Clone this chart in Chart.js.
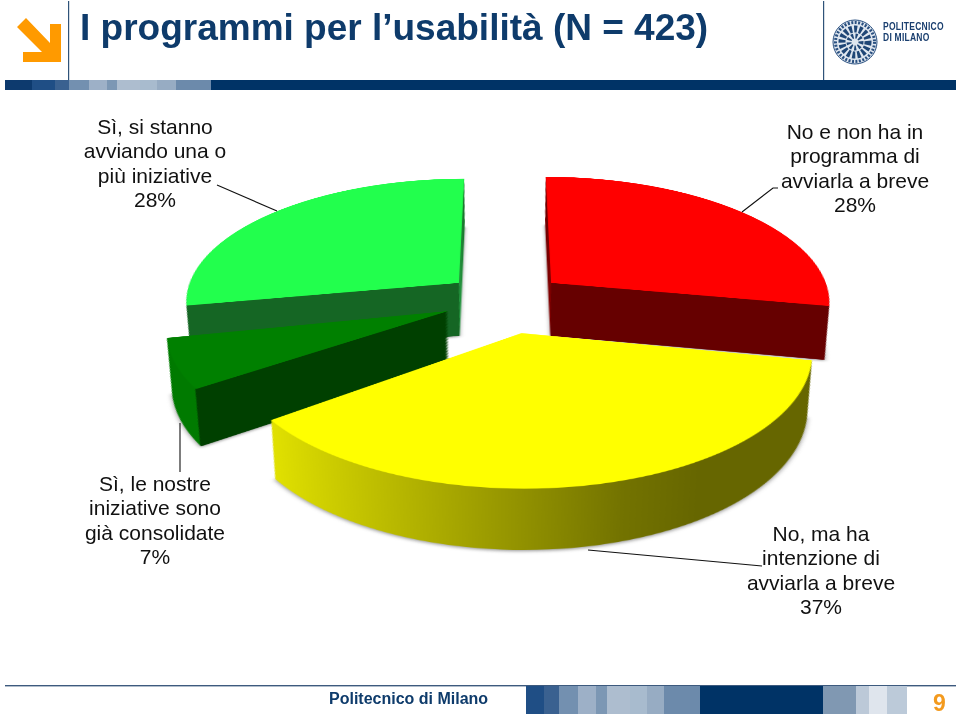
<!DOCTYPE html>
<html lang="it">
<head>
<meta charset="utf-8">
<title>I programmi per l'usabilità</title>
<script src="https://cdn.jsdelivr.net/npm/chart.js@4"></script>
<style>
  html, body { margin: 0; padding: 0; background: #fff; }
  #page { position: relative; width: 960px; height: 716px; overflow: hidden; font-family: "Liberation Sans", Arial, sans-serif; }
  #pie3d { position: absolute; left: 79px; top: -126px; transform-origin: 426px 426px; transform: perspective(1800px) rotateX(63.4deg); }
  #chrome { position: absolute; left: 0; top: 0; }
  .title { position: absolute; left: 80px; top: 6px; font-size: 37px; font-weight: bold; color: #0e3b6b; white-space: nowrap; line-height: 44px; }
  .lbl { position: absolute; width: 240px; text-align: center; font-size: 21px; line-height: 24.4px; color: #111; white-space: nowrap; }
  .foot { position: absolute; left: 329px; top: 689px; font-size: 16px; font-weight: bold; color: #0e3b6b; line-height: 20px; }
  .num { position: absolute; left: 933px; top: 691px; font-size: 23px; font-weight: bold; color: #f39a1e; line-height: 24px; }
  .logo { position: absolute; left: 883px; top: 21px; font-size: 10.5px; font-weight: bold; color: #1a3f6f; letter-spacing: 0.3px; line-height: 10.5px; white-space: nowrap; transform: scaleX(0.81); transform-origin: left top; }
</style>
</head>
<body>
<div id="page">
  <canvas id="pie3d" width="852" height="982"></canvas>
  <svg id="chrome" width="960" height="716"></svg>
  <div class="title">I programmi per l’usabilità (N = 423)</div>
  <div class="logo">POLITECNICO<br>DI MILANO</div>
  <div class="foot">Politecnico di Milano</div>
  <div class="num">9</div>
</div>
<script>
// clockwise from 12 o'clock
const sliceNames = [
  ['No e non ha in', 'programma di', 'avviarla a breve'],
  ['No, ma ha', 'intenzione di', 'avviarla a breve'],
  ['Sì, le nostre', 'iniziative sono', 'già consolidate'],
  ['Sì, si stanno', 'avviando una o', 'più iniziative']
];
const sliceValues = [28, 37, 7, 28];
const topColors = ['#ff0000', '#ffff00', '#008000', '#22ff4d'];
const sliceOffsets = [244, 292, 244, 244];    // chart.js moves a slice by offset / 4
const sliceRadius = [1, 0.99, 0.98, 0.98];
// side wall colours, as [fraction of the pie width, colour]
const wallStops = [
  [[0, '#8a0000'], [0.5, '#8a0000'], [0.5, '#660000'], [1, '#660000']],
  [[0, '#e4e400'], [0.109, '#e0e000'], [0.396, '#a6a600'], [0.648, '#737300'], [0.77, '#666600'], [1, '#666600']],
  [[0, '#007a00'], [0.096, '#007a00'], [0.096, '#004000'], [1, '#004000']],
  [[0, '#156624'], [0.5, '#156624'], [0.5, '#2aa548'], [1, '#2aa548']]
];
const labelSpots = [[735, 120], [701, 522], [35, 472], [35, 115]];
const leaderLines = [
  '778,188 773,188 742,212',
  '762,566 588,550',
  '180,472 180,423',
  '217,185 277,211'
];
const headerBars = [[5, '#0d3a6e'], [32, '#1f4e85'], [55, '#3a6190'], [69, '#7390b0'], [89, '#9db0c7'], [107, '#7c97b4'],
  [117, '#adbdcf'], [140, '#a8bbce'], [157, '#97acc3'], [176, '#6c8aab'], [211, '#003366'], [956, '']];
const footerBars = [[526, '#1f4e85'], [544, '#3a6190'], [559, '#7390b0'], [578, '#9db0c7'], [596, '#7c97b4'], [607, '#adbdcf'],
  [630, '#a8bbce'], [647, '#97acc3'], [664, '#6c8aab'], [700, '#003366'], [823, '#8098b2'], [856, '#bcc9d8'], [869, '#dfe5ed'], [887, '#bccad9'], [907, '']];

const DEPTH = 113;     // wall height, canvas px before the tilt
const SHRINK = 0.07;   // how much the bottom of a wall narrows, cancels the css perspective
const DRAW_ORDER = [0, 3, 2, 1];

const extrude = {
  id: 'extrude',
  beforeDatasetsDraw(chart) {
    const ctx = chart.ctx;
    const controller = chart.getDatasetMeta(0).controller;
    const arcs = chart.getDatasetMeta(0).data;
    const cx = chart.chartArea.left + chart.chartArea.width / 2;
    const cy = chart.chartArea.top + chart.chartArea.height / 2;
    const R = controller.outerRadius;
    DRAW_ORDER.forEach(i => {
      const arc = arcs[i];
      const top = arc.options;
      // arc.draw grows narrow slices by offset/4, take that back so all keep one radius
      const fix = 1 - Math.sin(Math.min(Math.PI, arc.circumference));
      arc.outerRadius = R * sliceRadius[i] - (sliceOffsets[i] / 4) * fix;

      // arc.draw translates before it fills, so the gradient moves along with the slice
      const grad = ctx.createLinearGradient(cx - R, 0, cx + R, 0);
      wallStops[i].forEach(s => grad.addColorStop(s[0], s[1]));
      arc.options = Object.assign({}, top, { backgroundColor: grad });
      for (let d = DEPTH; d > 0; d -= 1.5) {
        const f = 1 - SHRINK * d / DEPTH;
        ctx.save();
        ctx.translate(cx, cy + d);
        ctx.scale(f, f);
        ctx.translate(-cx, -cy);
        if (d === DEPTH) {
          ctx.shadowColor = 'rgba(60,60,60,0.55)';
          ctx.shadowBlur = 10;
          ctx.shadowOffsetY = 3;
        }
        arc.draw(ctx);
        ctx.restore();
      }
      arc.options = top;
      arc.draw(ctx);
    });
    return false;
  }
};

new Chart(document.getElementById('pie3d'), {
  type: 'pie',
  data: {
    labels: sliceNames.map(n => n.join(' ')),
    datasets: [{
      data: sliceValues,
      backgroundColor: topColors,
      borderWidth: 0,
      offset: sliceOffsets
    }]
  },
  options: {
    responsive: false,
    animation: false,
    devicePixelRatio: 2,
    layout: { padding: { bottom: 130 } },
    plugins: { legend: { display: false }, tooltip: { enabled: false } }
  },
  plugins: [extrude]
});

// labels, taken from the same arrays as the slices
const page = document.getElementById('page');
sliceNames.forEach((lines, i) => {
  const el = document.createElement('div');
  el.className = 'lbl';
  el.style.left = labelSpots[i][0] + 'px';
  el.style.top = labelSpots[i][1] + 'px';
  el.innerHTML = lines.concat(sliceValues[i] + '%').join('<br>');
  page.appendChild(el);
});

// header, footer and leaders
const NS = 'http://www.w3.org/2000/svg';
const svg = document.getElementById('chrome');
function add(tag, attrs) {
  const n = document.createElementNS(NS, tag);
  Object.keys(attrs).forEach(k => n.setAttribute(k, attrs[k]));
  svg.appendChild(n);
  return n;
}
function bars(list, y, h) {
  list.slice(0, -1).forEach((b, i) => {
    add('rect', { x: b[0], y: y, width: list[i + 1][0] - b[0], height: h, fill: b[1] });
  });
}
bars(headerBars, 80, 10);
add('rect', { x: 68, y: 1, width: 1.2, height: 79, fill: '#2f5379' });
add('rect', { x: 823, y: 1, width: 1.2, height: 79, fill: '#2f5379' });
add('polygon', { points: '17,27 26,18 50,43 50,24 61,24 61,62 23,62 23,52 42,52', fill: '#ff9a00' });
add('rect', { x: 5, y: 685, width: 951, height: 1.4, fill: '#3d5a7e' });
bars(footerBars, 686, 28);
leaderLines.forEach(p => add('polyline', { points: p, fill: 'none', stroke: '#111', 'stroke-width': 1.1 }));

// the seal in the logo
add('circle', { cx: 855, cy: 42, r: 22, fill: '#dfe6ef', stroke: '#2a5080', 'stroke-width': 1 });
add('circle', { cx: 855, cy: 42, r: 19.5, fill: 'none', stroke: '#2a5080', 'stroke-width': 3, 'stroke-dasharray': '2 1.5' });
add('circle', { cx: 855, cy: 42, r: 13, fill: 'none', stroke: '#1f4676', 'stroke-width': 7, 'stroke-dasharray': '3 2' });
add('circle', { cx: 855, cy: 42, r: 6, fill: 'none', stroke: '#1f4676', 'stroke-width': 5, 'stroke-dasharray': '2 2' });
</script>
</body>
</html>
